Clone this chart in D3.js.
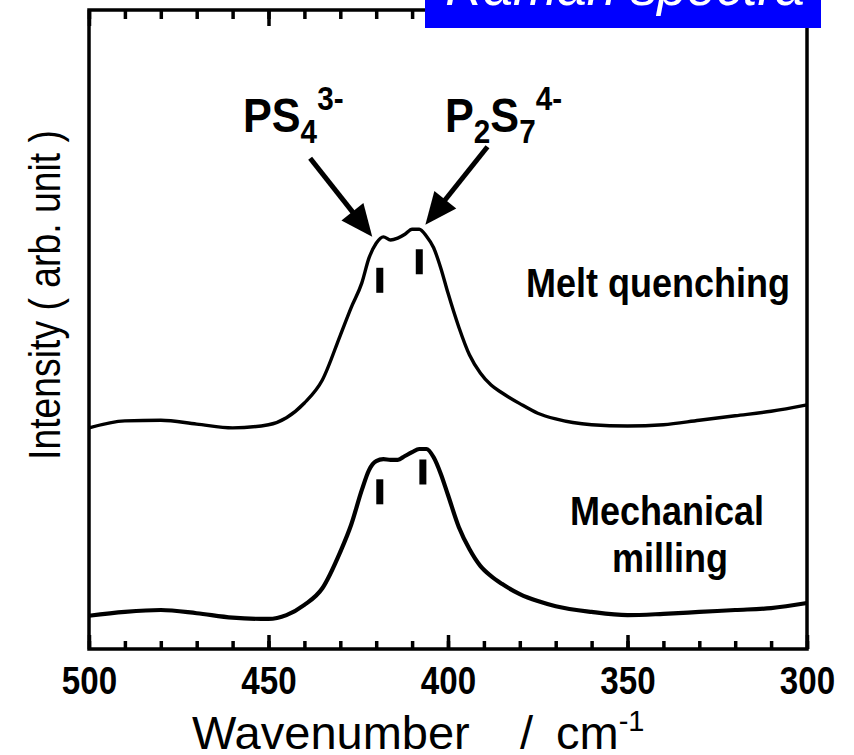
<!DOCTYPE html>
<html>
<head>
<meta charset="utf-8">
<script src="https://cdn.jsdelivr.net/npm/d3@7"></script>
<style>
  body { margin: 0; background: #fff; }
  svg { display: block; }
  text { font-family: "Liberation Sans", Arial, sans-serif; }
</style>
</head>
<body>
<div id="chart"></div>
<script>
// wavenumber grid (cm-1) shared by both spectra
var wavenumbers = [500, 490, 480, 470, 460, 450, 445, 440, 435, 430, 427, 424, 422, 420, 418, 416, 414, 412, 410,
  408, 406, 404, 402, 400, 397, 394, 391, 388, 385, 380, 375, 370, 360, 350, 340, 330, 320, 310, 300];

// intensity, arb. unit (already offset as in the figure)
var meltQuenching = [34.6, 35.7, 35.8, 35.2, 34.6, 35.1, 36.2, 38.5, 42.1, 49.1, 53.4, 57.3, 61.2, 63.5, 64.5, 64.0, 64.3, 64.9, 65.7,
  65.7, 64.6, 62.8, 59.6, 55.7, 50.4, 46.0, 43.2, 41.3, 40.1, 38.4, 36.9, 36.0, 35.1, 34.9, 35.1, 35.8, 36.5, 37.2, 38.2];
var mechanicalMilling = [5.2, 5.8, 6.1, 5.6, 4.9, 4.7, 5.3, 6.9, 9.5, 15.2, 19.4, 24.9, 28.0, 29.4, 29.7, 29.6, 29.6, 30.2, 30.8,
  31.3, 31.3, 30.0, 27.4, 24.1, 19.1, 15.6, 13.0, 11.4, 10.2, 8.6, 7.5, 6.7, 5.8, 5.3, 5.5, 5.8, 6.1, 6.4, 7.2];

var majorTicks = [500, 450, 400, 350, 300];
var minorTicks = d3.range(300, 501, 10);

// peak position marks: [wavenumber, centre intensity]
var meltMarks = [[419, 57.7], [408, 60.6]];
var millMarks = [[419, 24.6], [407, 27.7]];

// arrows: [from wn, from I, to wn, to I]
var arrows = [[438.4, 76.8, 421.1, 64.5], [389.0, 78.6, 406.3, 66.4]];

var width = 854, height = 755;
var margin = {top: 10, right: 47, bottom: 106, left: 89};

var svg = d3.select("#chart").append("svg")
    .attr("width", width)
    .attr("height", height);

var x = d3.scaleLinear()
    .domain([500, 300])
    .range([margin.left, width - margin.right]);

var y = d3.scaleLinear()
    .domain([0, 100])
    .range([height - margin.bottom, margin.top]);

var line = d3.line()
    .x(function(d){ return x(d[0]); })
    .y(function(d){ return y(d[1]); })
    .curve(d3.curveMonotoneX);

// spectra
svg.append("path")
    .attr("d", line(d3.zip(wavenumbers, meltQuenching)))
    .attr("fill", "none")
    .attr("stroke", "#000")
    .attr("stroke-width", 3.4)
    .attr("stroke-linejoin", "round");

svg.append("path")
    .attr("d", line(d3.zip(wavenumbers, mechanicalMilling)))
    .attr("fill", "none")
    .attr("stroke", "#000")
    .attr("stroke-width", 4.2)
    .attr("stroke-linejoin", "round");

// peak marks
svg.selectAll(".mark")
    .data(meltMarks.concat(millMarks))
    .enter().append("rect")
    .attr("class", "mark")
    .attr("x", function(d){ return x(d[0]) - 3.5; })
    .attr("y", function(d){ return y(d[1]) - 12.5; })
    .attr("width", 7)
    .attr("height", 25)
    .attr("fill", "#000");

// arrows: shaft stops inside the head so the tip stays sharp
var headLen = 32, headW = 28;
arrows.forEach(function(a){
    var x1 = x(a[0]), y1 = y(a[1]), x2 = x(a[2]), y2 = y(a[3]);
    var dx = x2 - x1, dy = y2 - y1, len = Math.sqrt(dx * dx + dy * dy);
    var ux = dx / len, uy = dy / len;
    var bx = x2 - ux * headLen, by = y2 - uy * headLen;
    svg.append("line")
        .attr("x1", x1).attr("y1", y1)
        .attr("x2", bx + ux * 4).attr("y2", by + uy * 4)
        .attr("stroke", "#000")
        .attr("stroke-width", 5);
    svg.append("path")
        .attr("d", "M" + x2 + "," + y2 +
            "L" + (bx - uy * headW / 2) + "," + (by + ux * headW / 2) +
            "L" + (bx + uy * headW / 2) + "," + (by - ux * headW / 2) + "Z")
        .attr("fill", "#000");
});

// axes: ticks point inward on top and bottom
var bottom = height - margin.bottom;
svg.append("g")
    .attr("transform", "translate(0," + bottom + ")")
    .call(d3.axisBottom(x).tickValues(minorTicks).tickSizeInner(-8).tickSizeOuter(0).tickFormat(""));
svg.append("g")
    .attr("class", "x axis")
    .attr("transform", "translate(0," + bottom + ")")
    .call(d3.axisBottom(x).tickValues(majorTicks).tickSizeInner(-14).tickSizeOuter(0).tickPadding(17));
svg.append("g")
    .attr("transform", "translate(0," + margin.top + ")")
    .call(d3.axisBottom(x).tickValues(minorTicks).tickSizeInner(9).tickSizeOuter(0).tickFormat(""));
svg.append("g")
    .attr("transform", "translate(0," + margin.top + ")")
    .call(d3.axisBottom(x).tickValues(majorTicks).tickSizeInner(16).tickSizeOuter(0).tickFormat(""));

svg.selectAll(".tick line").attr("stroke", "#000").attr("stroke-width", 3.5);
svg.selectAll(".domain").remove();
svg.selectAll("g").attr("font-family", null).attr("font-size", null);
svg.selectAll(".x.axis text")
    .attr("font-size", 39)
    .attr("font-weight", "bold")
    .attr("fill", "#000")
    .attr("transform", "scale(0.85,1)")
    .attr("x", 0);

// frame
svg.append("rect")
    .attr("x", margin.left)
    .attr("y", margin.top)
    .attr("width", width - margin.left - margin.right)
    .attr("height", height - margin.top - margin.bottom)
    .attr("fill", "none")
    .attr("stroke", "#000")
    .attr("stroke-width", 3.5);

// axis titles
var xt = svg.append("text")
    .attr("y", 749)
    .attr("font-size", 47)
    .attr("fill", "#000");
xt.append("tspan").attr("x", 192).text("Wavenumber");
xt.append("tspan").attr("x", 520).text("/");
xt.append("tspan").attr("x", 556).text("cm");
xt.append("tspan").attr("font-size", 29).attr("dy", -18).text("-1");

svg.append("text")
    .attr("transform", "translate(60,295) rotate(-90) scale(0.83,1)")
    .attr("text-anchor", "middle")
    .attr("font-size", 45)
    .attr("fill", "#000")
    .text("Intensity ( arb. unit )");

// series labels
function label(txt, cx, by){
    svg.append("text")
        .attr("transform", "translate(" + cx + "," + by + ") scale(0.9,1)")
        .attr("text-anchor", "middle")
        .attr("font-size", 40).attr("font-weight", "bold")
        .text(txt);
}
label("Melt quenching", 658, 297);
label("Mechanical", 667, 525);
label("milling", 670, 572);

// ion labels
function ion(xp, parts){
    var t = svg.append("text")
        .attr("transform", "translate(" + xp + ",0) scale(0.9,1)")
        .attr("x", 0).attr("y", 132)
        .attr("font-size", 48).attr("font-weight", "bold");
    parts.forEach(function(p){
        var s = t.append("tspan").text(p[0]);
        if (p[1] === "sub") s.attr("font-size", 33).attr("y", 143);
        else if (p[1] === "sup") s.attr("font-size", 33).attr("y", 110);
        else s.attr("y", 132);
    });
}
ion(243, [["PS"], ["4", "sub"], ["3-", "sup"]]);
ion(445, [["P"], ["2", "sub"], ["S"], ["7", "sub"], ["4-", "sup"]]);

// title box, cut at the top edge
svg.append("rect")
    .attr("x", 425).attr("y", 0)
    .attr("width", 396).attr("height", 28)
    .attr("fill", "#0000ff");
svg.append("text")
    .attr("x", 625).attr("y", 5)
    .attr("text-anchor", "middle")
    .attr("font-style", "italic")
    .attr("font-size", 53)
    .attr("fill", "#fff")
    .text("Raman spectra");
</script>
</body>
</html>
